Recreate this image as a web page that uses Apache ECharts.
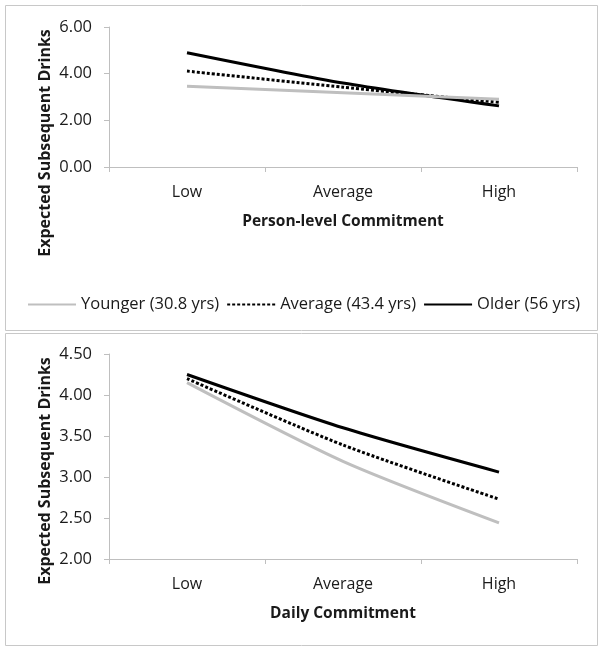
<!DOCTYPE html>
<html lang="en">
<head>
    <meta charset="UTF-8">
    <title>Expected Subsequent Drinks</title>
    <style>
        html, body { margin: 0; padding: 0; background: #fff; }
        #chart { width: 604px; height: 652px; }
    </style>
</head>
<body>
<div id="chart"></div>
<script src="https://cdn.jsdelivr.net/npm/echarts@6/dist/echarts.min.js"></script>
<script type="text/javascript">
    // categories and series values
    var levels = ['Low', 'Average', 'High'];
    var seriesNames = ['Younger (30.8 yrs)', 'Average (43.4 yrs)', 'Older (56 yrs)'];
    // top panel: person-level commitment
    var personYounger = [3.46, 3.18, 2.90];
    var personAverage = [4.11, 3.42, 2.77];
    var personOlder = [4.90, 3.60, 2.62];
    // bottom panel: daily commitment
    var dailyYounger = [4.15, 3.19, 2.44];
    var dailyAverage = [4.20, 3.39, 2.73];
    var dailyOlder = [4.25, 3.60, 3.06];
    var topTicks = [0, 6, 2];       // min, max, interval
    var bottomTicks = [2, 4.5, 0.5];

    var font = '"Open Sans", "Liberation Sans", sans-serif';
    var txt = '#1a1a1a';
    var axisGray = '#bfbfbf';
    var styles = [
        {color: '#bfbfbf', width: 3, type: 'solid'},
        {color: '#000', width: 3, type: [3, 2]},
        {color: '#000', width: 3, type: 'solid'}
    ];

    function xAxisFor(idx, name) {
        return {
            type: 'category', gridIndex: idx, data: levels,
            boundaryGap: true,
            axisLine: {lineStyle: {color: axisGray, width: 1}},
            axisTick: {show: true, length: 5, lineStyle: {color: axisGray}},
            axisLabel: {color: txt, fontFamily: font, fontSize: 16, margin: 17},
            name: name, nameLocation: 'middle', nameGap: 47,
            nameTextStyle: {color: txt, fontFamily: font, fontSize: 15.5, fontWeight: 'bold'}
        };
    }

    function yAxisFor(idx, t) {
        return {
            type: 'value', gridIndex: idx, min: t[0], max: t[1], interval: t[2],
            axisLine: {show: true, lineStyle: {color: axisGray, width: 1}},
            axisTick: {show: true, length: 5, lineStyle: {color: axisGray}},
            splitLine: {show: false},
            axisLabel: {color: txt, fontFamily: font, fontSize: 16.5, margin: 17,
                formatter: function (v) { return v.toFixed(2); }}
        };
    }

    function lineFor(i, idx, data) {
        return {
            name: seriesNames[i], type: 'line', xAxisIndex: idx, yAxisIndex: idx,
            data: data, symbol: 'none', smooth: 0.25,
            lineStyle: styles[i], itemStyle: {color: styles[i].color},
            z: 10 - i
        };
    }

    var myChart = echarts.init(document.getElementById('chart'));
    var option = {
        animation: false,
        backgroundColor: '#fff',
        grid: [
            {left: 109, right: 27, top: 27, height: 140},
            {left: 109, right: 27, top: 354, height: 205}
        ],
        legend: {
            data: seriesNames, left: 22, top: 291,
            itemWidth: 48, itemHeight: 14, itemGap: 7,
            itemStyle: {opacity: 0},
            textStyle: {color: txt, fontFamily: font, fontSize: 16.5}
        },
        xAxis: [
            xAxisFor(0, 'Person-level Commitment'),
            xAxisFor(1, 'Daily Commitment')
        ],
        yAxis: [yAxisFor(0, topTicks), yAxisFor(1, bottomTicks)],
        series: [
            lineFor(0, 0, personYounger),
            lineFor(1, 0, personAverage),
            lineFor(2, 0, personOlder),
            lineFor(0, 1, dailyYounger),
            lineFor(1, 1, dailyAverage),
            lineFor(2, 1, dailyOlder)
        ],
        graphic: [
            {type: 'rect', shape: {x: 5.5, y: 5.5, width: 592, height: 325},
                style: {fill: 'none', stroke: '#c8c8c8', lineWidth: 1}, silent: true},
            {type: 'rect', shape: {x: 5.5, y: 333.5, width: 592, height: 312},
                style: {fill: 'none', stroke: '#c8c8c8', lineWidth: 1}, silent: true},
            {type: 'text', x: 45, y: 143, rotation: Math.PI / 2,
                style: {text: 'Expected Subsequent Drinks', fill: txt, font: 'bold 16px ' + font,
                    textAlign: 'center', textVerticalAlign: 'middle'}},
            {type: 'text', x: 45, y: 471, rotation: Math.PI / 2,
                style: {text: 'Expected Subsequent Drinks', fill: txt, font: 'bold 16px ' + font,
                    textAlign: 'center', textVerticalAlign: 'middle'}}
        ]
    };
    myChart.setOption(option);
</script>
</body>
</html>
